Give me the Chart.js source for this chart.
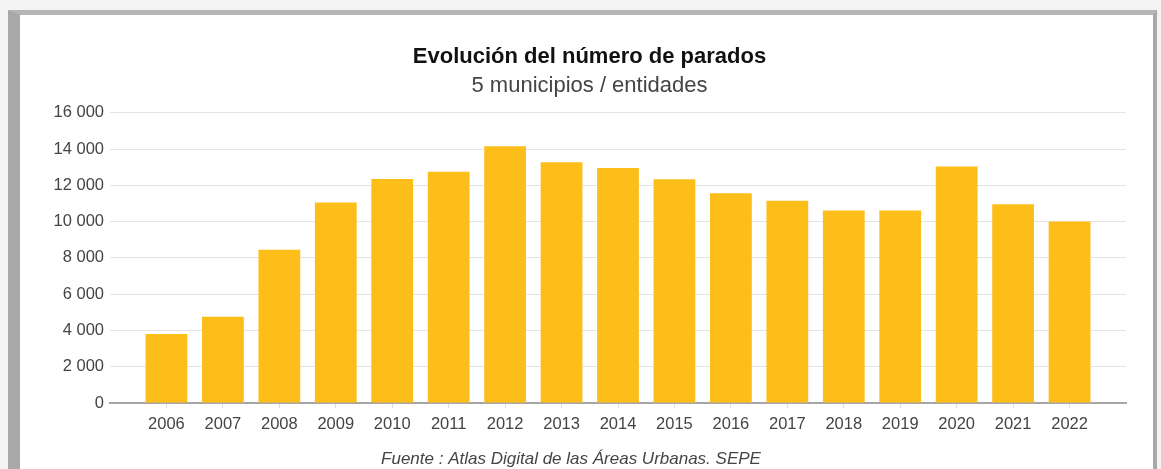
<!DOCTYPE html>
<html>
<head>
<meta charset="utf-8">
<script src="https://cdn.jsdelivr.net/npm/chart.js@4.4.1/dist/chart.umd.min.js"></script>
<style>
  html, body { margin: 0; padding: 0; background: #f3f3f3; width: 1161px; height: 469px; overflow: hidden; }
  #frame { position: absolute; left: 8px; top: 10px; width: 1149px; height: 470px;
           background: #fff; border-left: 12px solid #a8a8a8; border-top: 5px solid #b6b6b6; border-right: 4px solid #a8a8a8;
           box-sizing: border-box; }
  #wrap { position: absolute; left: 20px; top: 15px; width: 1137px; height: 454px; }
</style>
</head>
<body>
<div id="frame"></div>
<div id="wrap"><canvas id="c" width="1137" height="454"></canvas></div>
<script>
const years = [2006, 2007, 2008, 2009, 2010, 2011, 2012, 2013, 2014, 2015, 2016, 2017, 2018, 2019, 2020, 2021, 2022];
const parados = [3800, 4750, 8450, 11050, 12350, 12750, 14150, 13280, 12950, 12340, 11570, 11150, 10610, 10620, 13040, 10960, 10010];
const yTicks = [0, 2000, 4000, 6000, 8000, 10000, 12000, 14000, 16000];
const titleText = 'Evolución del número de parados';
const subtitleText = '5 municipios / entidades';
const sourceText = 'Fuente : Atlas Digital de las Áreas Urbanas. SEPE';

const FONT = "Arial, 'Liberation Sans', sans-serif";
const fmt = v => String(v).replace(/\B(?=(\d{3})+(?!\d))/g, ' ');

const sourcePlugin = {
  id: 'source',
  afterDraw(chart) {
    const ctx = chart.ctx;
    ctx.save();
    ctx.font = "italic 17px " + FONT;
    ctx.fillStyle = '#444';
    ctx.textAlign = 'center';
    ctx.textBaseline = 'middle';
    ctx.fillText(sourceText, 551, 444);
    ctx.restore();
  }
};

new Chart(document.getElementById('c'), {
  type: 'bar',
  data: {
    datasets: [{
      data: years.map((y, i) => ({ x: y, y: parados[i] })),
      backgroundColor: '#fdbe1a',
      borderWidth: 0,
      barPercentage: 0.74,
      categoryPercentage: 1.0
    }]
  },
  options: {
    responsive: false,
    devicePixelRatio: 1,
    animation: false,
    layout: { padding: { left: 33, right: 31, top: 0, bottom: 0 } },
    plugins: {
      legend: { display: false },
      tooltip: { enabled: false },
      title: {
        display: true, text: titleText, color: '#111',
        font: { family: FONT, size: 22, weight: 'bold', lineHeight: 1.2 },
        padding: { top: 29, bottom: 0 }
      },
      subtitle: {
        display: true, text: subtitleText, color: '#444',
        font: { family: FONT, size: 22, weight: 'normal', lineHeight: 1.2 },
        padding: { top: 2, bottom: 14 }
      }
    },
    scales: {
      x: {
        type: 'linear', min: 2005, max: 2023, offset: false,
        afterBuildTicks(scale) { scale.ticks = years.map(v => ({ value: v })); },
        afterFit(scale) { scale.height = 66; },
        ticks: { color: '#444', font: { family: FONT, size: 16.5 }, padding: 7, maxRotation: 0, autoSkip: false,
                 callback: v => String(v) },
        grid: { offset: false, drawOnChartArea: false, drawTicks: true, tickLength: 5, color: '#dddddd' },
        border: { display: true, color: '#a6a6a6', width: 2 }
      },
      y: {
        min: 0, max: 16000,
        afterBuildTicks(scale) { scale.ticks = yTicks.map(v => ({ value: v })); },
        afterFit(scale) { scale.width = 57; },
        ticks: { color: '#444', font: { family: FONT, size: 16.5 }, padding: 6, callback: v => fmt(v) },
        grid: { color: '#e4e4e4', drawTicks: false, lineWidth: 1 },
        border: { display: false }
      }
    }
  },
  plugins: [sourcePlugin]
});
</script>
</body>
</html>
